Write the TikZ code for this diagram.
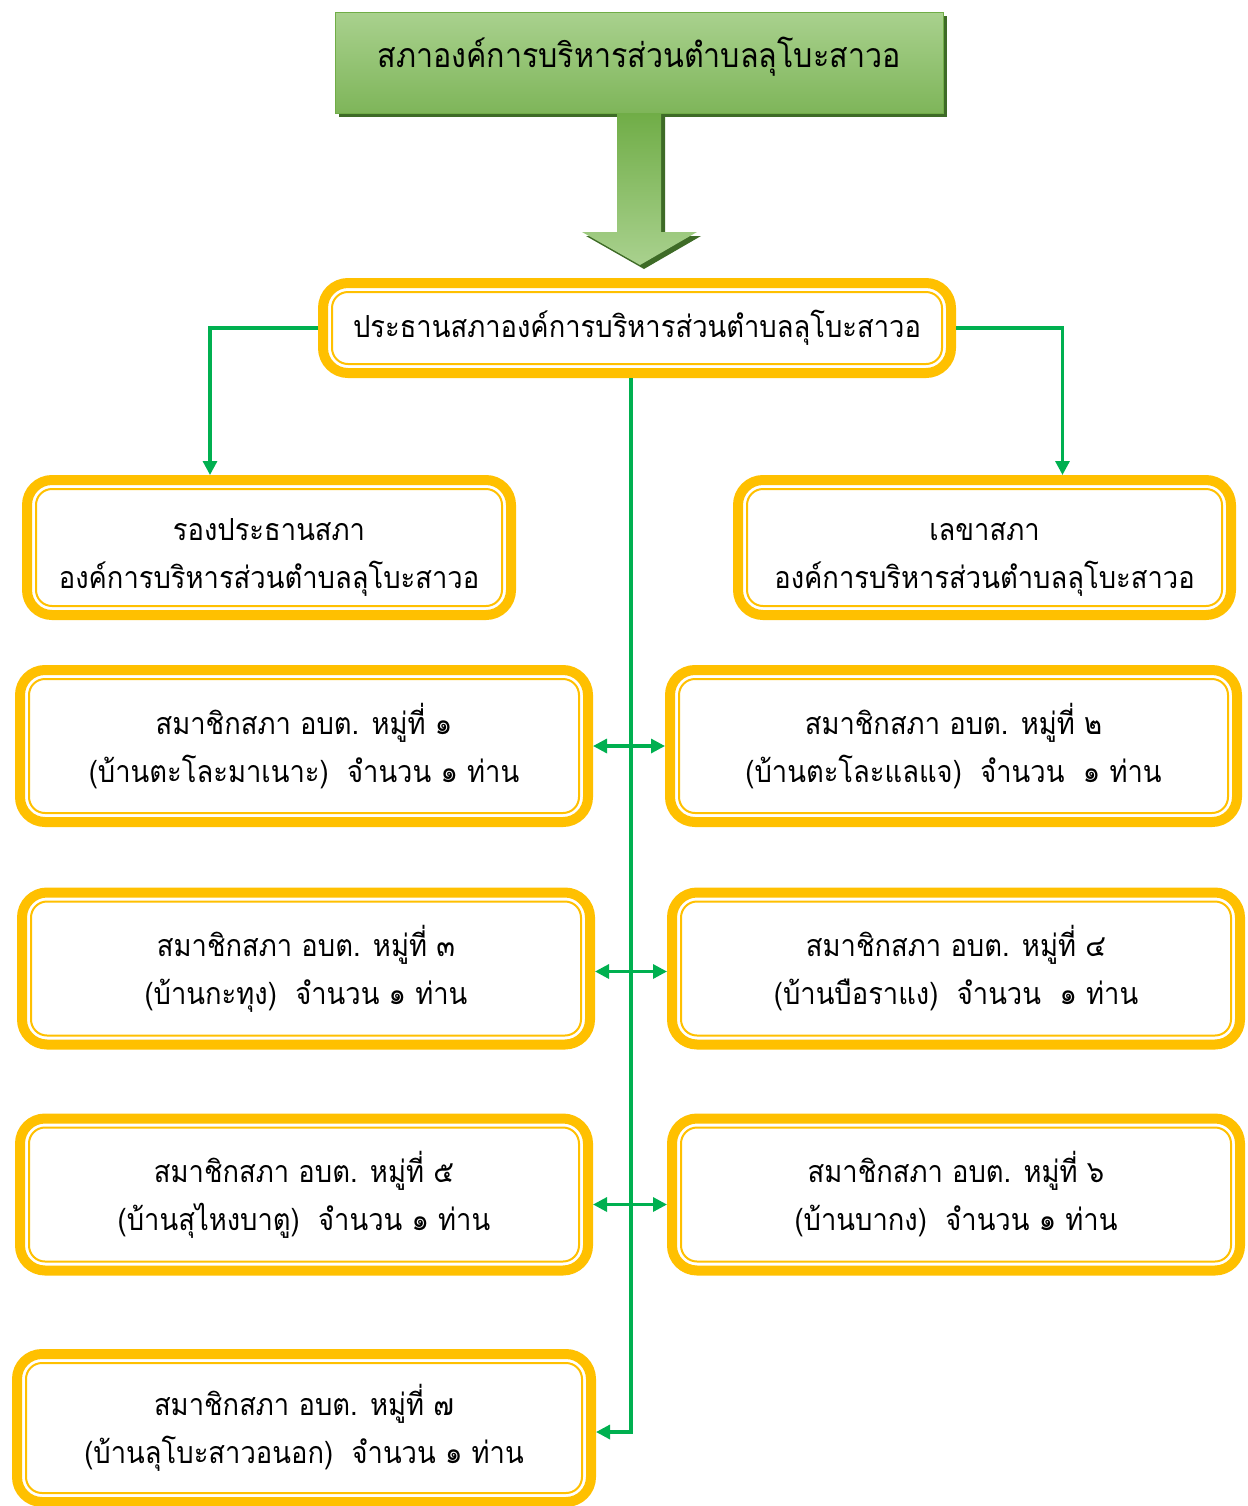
\documentclass[tikz,border=0pt]{standalone}
\usepackage{fontspec}
\newfontfamily\thaifont[Script=Thai,FakeStretch=0.9]{Loma}
\usetikzlibrary{arrows.meta,shadows}
\definecolor{gold}{HTML}{FFC000}
\definecolor{linegreen}{HTML}{00B050}
\definecolor{lightgreen}{HTML}{A9D18E}
\definecolor{midgreen}{HTML}{70AD47}
\definecolor{darkgreen}{HTML}{3E6B27}
\newcommand\lowstrut{\rule{0pt}{21pt}}
\begin{document}
\begin{tikzpicture}[x=0.5pt,y=-0.5pt,>={Triangle[length=7pt,width=7pt]},
    yellowbox/.style={draw=gold,line width=5pt,rounded corners=12.5pt,fill=white,
      align=center,inner sep=0pt,font=\thaifont\fontsize{15.2}{24}\selectfont},
    link/.style={draw=linegreen,line width=1.6pt}]
  \useasboundingbox (0,0) rectangle (1248,1506);
  % top box and big arrow
  \node[draw=midgreen,top color=lightgreen,bottom color=midgreen!90,
    drop shadow={shadow xshift=2pt,shadow yshift=-2pt,fill=darkgreen,opacity=1},
    minimum width=304pt,minimum height=50.5pt,inner sep=0pt,text depth=10pt,
    font=\thaifont\fontsize{16.9}{24}\selectfont] (council) at (639,62.5)
    {สภาองค์การบริหารส่วนตำบลลุโบะสาวอ};
  \fill[darkgreen] (621,117) -- (665,117) -- (665,236) -- (701,236)
    -- (644,269) -- (586,236) -- (621,236) -- cycle;
  \shade[top color=midgreen,bottom color=lightgreen] (617,113) -- (661,113)
    -- (661,232) -- (697,232) -- (640,265) -- (582,232) -- (617,232) -- cycle;
  % yellow boxes
  \node[yellowbox,minimum width=314pt,minimum height=45pt] (chair) at (637,328)
    {ประธานสภาองค์การบริหารส่วนตำบลลุโบะสาวอ};
  \node[yellowbox,minimum width=242pt,minimum height=67.5pt] (vice) at (269,547.5)
    {\lowstrut รองประธานสภา\\องค์การบริหารส่วนตำบลลุโบะสาวอ};
  \node[yellowbox,minimum width=246.5pt,minimum height=67.5pt] (secr) at (984.5,547.5)
    {\lowstrut เลขาสภา\\องค์การบริหารส่วนตำบลลุโบะสาวอ};
  \node[yellowbox,minimum width=284pt,minimum height=76pt] (m1) at (304,746)
    {สมาชิกสภา อบต. หมู่ที่ ๑\\(บ้านตะโละมาเนาะ) \ จำนวน ๑ ท่าน};
  \node[yellowbox,minimum width=283.5pt,minimum height=76pt] (m2) at (953.5,746)
    {สมาชิกสภา อบต. หมู่ที่ ๒\\(บ้านตะโละแลแจ) \ จำนวน \ ๑ ท่าน};
  \node[yellowbox,minimum width=284pt,minimum height=76pt] (m3) at (306,968.5)
    {สมาชิกสภา อบต. หมู่ที่ ๓\\(บ้านกะทุง) \ จำนวน ๑ ท่าน};
  \node[yellowbox,minimum width=284pt,minimum height=76pt] (m4) at (956,968.5)
    {สมาชิกสภา อบต. หมู่ที่ ๔\\(บ้านบือราแง) \ จำนวน \ ๑ ท่าน};
  \node[yellowbox,minimum width=284pt,minimum height=76pt] (m5) at (304,1194.5)
    {สมาชิกสภา อบต. หมู่ที่ ๕\\(บ้านสุไหงบาตู) \ จำนวน ๑ ท่าน};
  \node[yellowbox,minimum width=284pt,minimum height=76pt] (m6) at (956,1194.5)
    {สมาชิกสภา อบต. หมู่ที่ ๖\\(บ้านบากง) \ จำนวน ๑ ท่าน};
  \node[yellowbox,minimum width=287pt,minimum height=74pt] (m7) at (304,1428)
    {สมาชิกสภา อบต. หมู่ที่ ๗\\(บ้านลุโบะสาวอนอก) \ จำนวน ๑ ท่าน};
  \foreach \n in {chair,vice,secr,m1,m2,m3,m4,m5,m6,m7}
    \draw[gold,line width=1pt,rounded corners=8pt]
      ([shift={(7pt,-7pt)}]\n.north west) rectangle ([shift={(-7pt,7pt)}]\n.south east);
  % connectors
  \draw[link,->] (chair.west) -| ([xshift=-29.5pt]vice.north);
  \draw[link,->] (chair.east) -| ([xshift=39pt]secr.north);
  \draw[link,->] ([xshift=-3pt]chair.south) |- ([yshift=-2pt]m7.east);
  \draw[link,<->] (m1.east) -- (m2.west);
  \draw[link,<->] ([yshift=-1.5pt]m3.east) -- ([yshift=-1.5pt]m4.west);
  \draw[link,<->] ([yshift=-5pt]m5.east) -- ([yshift=-5pt]m6.west);
\end{tikzpicture}
\end{document}
